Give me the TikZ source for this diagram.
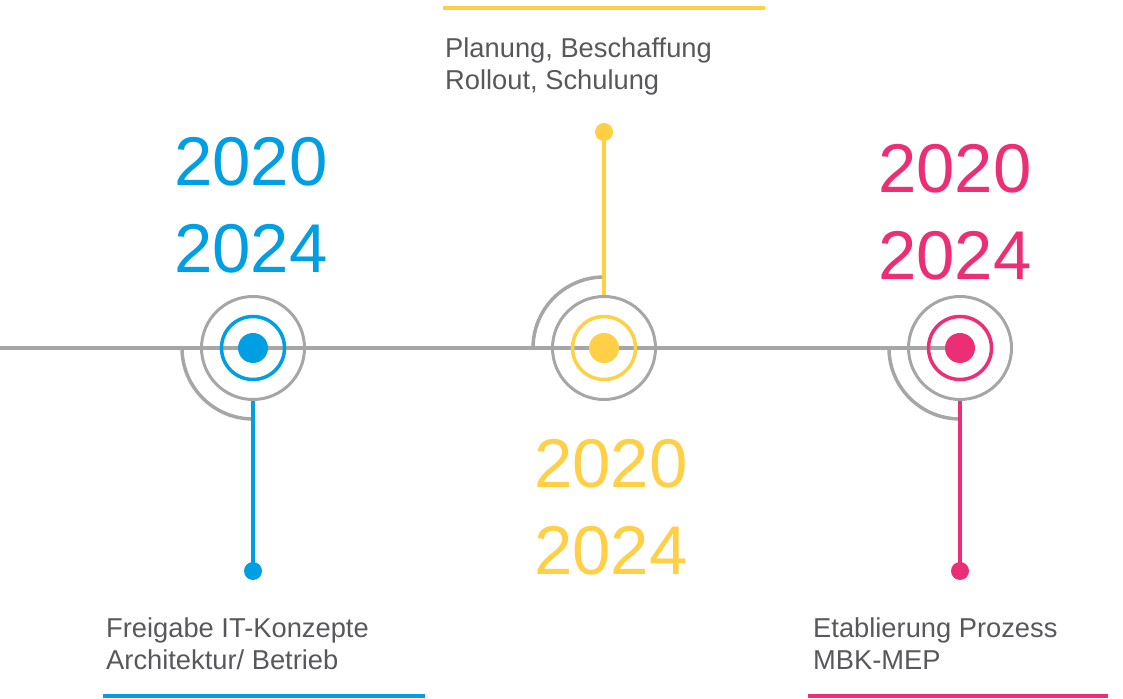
\documentclass[tikz,border=0pt]{standalone}
\usepackage{fontspec}
\setmainfont{Liberation Sans}
\usepackage{tikz}
\usetikzlibrary{positioning}
\usetikzlibrary{backgrounds}
\definecolor{tlblue}{RGB}{0,158,226}
\definecolor{tlyellow}{RGB}{255,208,69}
\definecolor{tlpink}{RGB}{236,47,117}
\definecolor{tlgray}{RGB}{166,166,166}
\definecolor{tltext}{RGB}{88,88,92}

\begin{document}
\begin{tikzpicture}[x=1pt,y=1pt,
    ring/.style={circle,draw=tlgray,line width=3pt,minimum size=103pt,inner sep=0pt},
    inring/.style={circle,draw=#1,line width=3.5pt,minimum size=63pt,inner sep=0pt},
    dot/.style={circle,fill=#1,minimum size=30pt,inner sep=0pt},
    enddot/.style={circle,fill=#1,minimum size=18pt,inner sep=0pt},
    year/.style={text=#1,font=\fontsize{69}{87}\selectfont,align=center,inner sep=0pt,anchor=north},
    label/.style={text=tltext,font=\fontsize{27.3}{32}\selectfont,align=left,inner sep=0pt,anchor=north west},
    stem/.style={line width=3.5pt,draw=#1},
    arcline/.style={line width=3.5pt,draw=tlgray}]
    \useasboundingbox (0,0) rectangle (1123,698);
    %
    \node (blueRing) at (253,350) [ring] {};
    \node (blueIn) at (253,350) [inring=tlblue] {};
    \node (blueDot) at (253,350) [dot=tlblue] {};
    \node (blueEnd) at (253,127) [enddot=tlblue] {};
    \node (blueYear) at (251,561) [year=tlblue] {2020\\2024};
    \node (blueText) at (106,80) [label] {Freigabe IT-Konzepte\\Architektur/ Betrieb};
    \coordinate (blueBarA) at (103,2);
    \coordinate (blueBarB) at (425,2);
    %
    \node (yellowRing) at (604,350) [ring] {};
    \node (yellowIn) at (604,350) [inring=tlyellow] {};
    \node (yellowDot) at (604,350) [dot=tlyellow] {};
    \node (yellowEnd) at (604,566) [enddot=tlyellow] {};
    \node (yellowYear) at (611,259) [year=tlyellow] {2020\\2024};
    \node (yellowText) at (445,660) [label] {Planung, Beschaffung\\Rollout, Schulung};
    \coordinate (yellowBarA) at (443,690);
    \coordinate (yellowBarB) at (765,690);
    %
    \node (pinkRing) at (960,350) [ring] {};
    \node (pinkIn) at (960,350) [inring=tlpink] {};
    \node (pinkDot) at (960,350) [dot=tlpink] {};
    \node (pinkEnd) at (960,127) [enddot=tlpink] {};
    \node (pinkYear) at (955,554) [year=tlpink] {2020\\2024};
    \node (pinkText) at (813,80) [label] {Etablierung Prozess\\MBK-MEP};
    \coordinate (pinkBarA) at (808,2);
    \coordinate (pinkBarB) at (1108,2);
    %
    \coordinate (lineStart) at (0,350);
    \begin{scope}[on background layer]
        \draw [draw=tlgray,line width=4pt] (lineStart) -- (pinkDot.center);
        \draw [arcline] ([xshift=-71pt]blueDot.center) arc[start angle=180,end angle=270,radius=71pt];
        \draw [arcline] ([xshift=-71pt]yellowDot.center) arc[start angle=180,end angle=90,radius=71pt];
        \draw [arcline] ([xshift=-71pt]pinkDot.center) arc[start angle=180,end angle=270,radius=71pt];
    \end{scope}
    %
    \draw [stem=tlblue] (blueRing.south) -- (blueEnd.center);
    \draw [stem=tlyellow] (yellowEnd.center) -- (yellowRing.north);
    \draw [stem=tlpink] (pinkRing.south) -- (pinkEnd.center);
    %
    \draw [line width=4pt,tlblue] (blueBarA) -- (blueBarB);
    \draw [line width=4pt,tlyellow] (yellowBarA) -- (yellowBarB);
    \draw [line width=4pt,tlpink] (pinkBarA) -- (pinkBarB);
\end{tikzpicture}
\end{document}
